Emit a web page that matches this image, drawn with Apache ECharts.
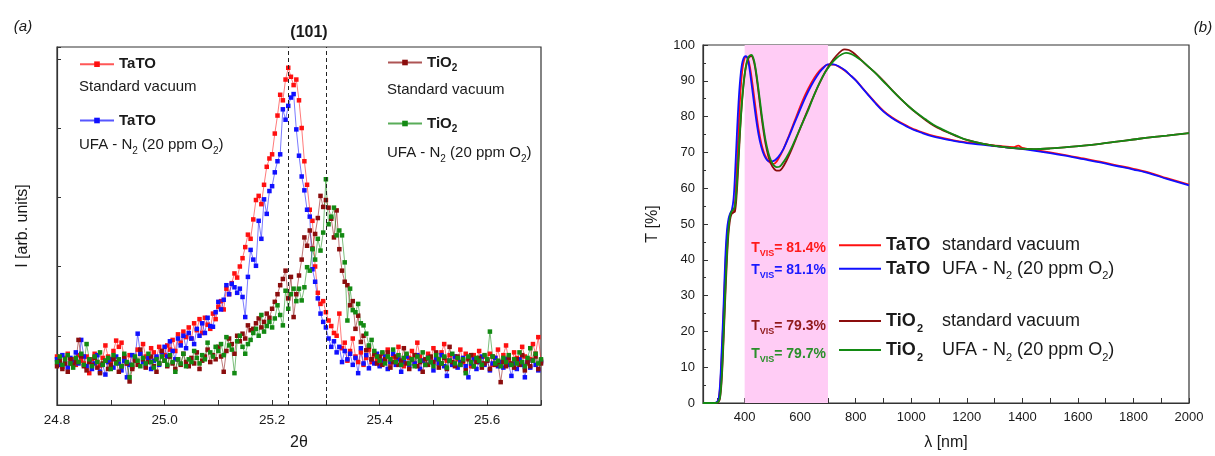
<!DOCTYPE html>
<html>
<head>
<meta charset="utf-8">
<script src="https://cdn.jsdelivr.net/npm/echarts@6/dist/echarts.min.js"></script>
<style>html,body{margin:0;padding:0;background:#fff}#c{width:1215px;height:456px}</style>
</head>
<body>
<div id="c"></div>
<script>
// ---------- Panel (a): XRD (101) peak, intensity in arbitrary units ----------
const twoThetaStart = 24.8;   // first measured angle
const twoThetaStep = 0.005;   // instrument step
const xrdTicks = {min: 24.8, max: 25.7, interval: 0.2};
const dashedRefs = [25.231, 25.301];

const iTaTOstd = [70,62,55,68,74,60,66,58,72,64,60,70,46,66,74,62,57,68,86,70,
62,78,93,84,90,68,60,72,55,66,80,74,88,70,64,82,76,68,84,78,
72,86,80,94,78,102,90,106,98,112,96,118,108,124,104,126,116,110,132,124,
142,150,138,168,160,176,190,184,200,212,228,246,240,268,296,302,290,318,344,356,
362,392,418,448,440,470,487,474,462,470,440,400,352,318,282,266,200,162,146,150,
134,122,114,104,100,132,82,90,64,78,96,70,62,76,58,68,80,62,72,66,
58,74,64,80,60,70,66,84,62,56,72,68,78,60,90,70,64,58,74,66,
82,68,60,76,88,64,72,58,70,66,80,62,74,68,56,72,64,78,60,70,
66,74,58,68,80,62,72,86,64,58,76,68,62,84,70,60,66,88,74,98,64];

const iTaTOufa = [66,58,72,60,54,68,62,76,60,94,70,56,64,52,60,72,48,58,44,62,
66,54,70,60,50,64,40,58,72,66,103,74,62,56,68,52,64,70,58,76,
84,70,92,78,66,96,86,100,82,104,96,88,110,100,118,104,126,114,113,134,
149,138,152,173,160,175,170,162,168,156,127,185,224,210,201,266,240,297,276,309,
316,336,352,362,427,412,432,444,449,398,360,330,310,282,272,196,178,154,132,120,
112,96,84,92,76,84,62,78,66,74,58,68,46,82,60,72,53,66,60,74,
56,64,70,52,62,74,58,66,48,62,70,56,66,60,72,52,64,58,68,62,
50,66,60,72,56,42,64,58,70,54,62,68,56,40,60,66,52,62,70,58,
64,50,60,68,56,62,54,66,58,42,60,52,66,58,40,62,54,64,58,50,62];

const iTiO2std = [56,64,52,60,48,66,58,62,94,70,56,50,62,58,68,54,46,60,64,52,
58,66,62,48,56,70,60,34,52,64,58,80,66,54,62,70,56,48,60,78,
64,56,70,60,52,66,58,74,62,56,68,60,76,52,64,70,80,62,72,66,
84,70,48,78,96,88,74,100,92,103,96,115,108,110,118,125,112,120,132,126,
139,149,160,173,182,194,154,185,127,160,187,210,242,230,252,226,247,270,302,286,
296,285,269,242,281,225,194,178,173,144,150,110,129,91,100,79,84,66,74,60,
70,58,66,76,54,62,70,58,64,82,60,52,66,72,56,62,48,66,58,70,
62,76,54,60,68,52,84,62,56,70,58,64,50,66,72,56,62,68,54,60,
64,52,70,58,60,33,62,56,68,60,54,66,58,72,50,62,56,64,70,52,60];

const iTiO2ufa = [62,70,58,66,72,60,54,68,62,74,58,88,66,56,70,62,76,58,64,68,
52,72,60,66,56,74,62,40,58,70,64,56,68,60,74,62,54,66,60,70,
64,58,72,62,48,66,60,74,56,66,62,78,68,60,72,66,90,76,70,84,
78,88,72,98,86,80,46,92,100,84,74,88,94,104,110,100,130,106,114,120,
112,125,144,130,115,165,139,160,168,150,168,151,170,199,194,225,210,240,223,249,
326,261,272,285,245,252,245,206,122,168,137,134,146,118,115,103,86,94,78,70,
64,76,60,70,66,80,62,72,58,68,74,60,66,56,70,64,76,58,68,62,
56,72,66,60,70,54,64,74,60,68,58,66,46,70,62,56,68,64,58,72,
66,106,70,60,64,56,68,62,72,58,66,60,76,62,56,68,82,64,74,60,66];

// ---------- Panel (b): optical transmittance ----------
const wlTaTOstd = [250,290,300,306,312,318,324,330,336,342,348,354,360,364,368,374,380,386,392,398,
404,410,416,422,430,440,450,460,470,480,490,500,510,520,540,560,580,600,620,640,
660,680,700,720,740,760,780,800,820,840,870,900,930,960,1000,1040,1080,1140,1200,1260,
1320,1370,1385,1400,1440,1500,1560,1620,1680,1740,1800,1860,1920,2000];
const tTaTOstd = [0,0,0.2,0.8,5,14,25,37,46,50.5,52.5,53.2,53.3,55,60,70,80,88,93.2,95.8,
96.6,96.5,95,92.5,88,82,76.5,72.5,69.8,68.2,67.2,66.8,67,68,71,74.8,78.8,82.8,86.4,89.4,
91.9,93.6,94.5,94.5,93.9,92.9,91.6,90.2,88.4,86.6,84,81.6,79.8,78.4,76.8,75.6,74.6,73.6,72.8,72.3,
71.8,71.5,71.9,71.3,70.7,70,69.2,68.3,67.4,66.4,65.4,64.3,62.8,61];

const wlTaTOufa = [250,290,300,306,312,318,324,330,336,342,348,354,360,366,372,378,384,390,396,402,
408,414,420,430,440,450,460,470,480,490,500,510,520,540,560,580,600,620,640,660,
680,700,720,740,760,780,800,820,840,870,900,930,960,1000,1040,1080,1140,1200,1260,1320,
1380,1440,1500,1560,1620,1680,1740,1800,1860,1920,2000];
const tTaTOufa = [0,0,0.3,1,6,16,27,40,48,51.5,53,54,57,65,75,84,90.5,94.5,96.3,96.9,
96.7,95,92,86,80,75,71.5,69.2,67.9,67.4,67.5,67.9,68.6,71,74.5,78.3,82,85.6,88.7,91.3,
93.3,94.6,94.6,94,93,91.6,90.1,88.3,86.5,83.8,81.4,79.6,78.2,76.6,75.4,74.4,73.4,72.6,72.1,71.6,
71.1,70.5,69.8,69,68.1,67.2,66.2,65.2,64.1,62.6,60.8];

const wlTiO2std = [250,295,305,311,317,323,329,335,341,347,353,359,365,371,377,383,389,395,401,407,
413,419,425,431,437,445,455,465,475,485,495,505,515,525,535,550,570,590,610,630,
650,670,690,710,730,750,760,775,790,810,830,850,870,900,930,960,990,1020,1050,1080,
1110,1140,1170,1200,1260,1320,1380,1440,1500,1560,1620,1680,1740,1800,1860,1920,2000];
const tTiO2std = [0,0,0.2,1.2,6,15.5,27,38,46.5,51,52.8,53.2,53.5,58,66,75,82.5,88,92.2,94.8,
96.2,96.8,96.9,96,94,89.8,83.5,77.5,72.5,69,66.8,65.5,64.9,64.9,65.6,67.6,71,74.8,78.6,82.4,
86,89.4,92.5,95,97,98.5,98.8,98.6,97.9,96.5,95,93.6,92.3,90,87.5,85.1,82.9,80.9,79.1,77.5,
76.3,75.3,74.3,73.5,72.4,71.6,71.1,70.9,71.1,71.5,71.9,72.4,73,73.6,74.2,74.7,75.4];

const wlTiO2ufa = [250,295,305,311,317,323,329,335,341,347,353,359,365,371,377,383,389,395,401,407,
413,419,425,431,437,445,455,465,475,485,495,505,515,525,535,550,570,590,610,630,
650,670,690,710,730,750,765,780,800,820,840,870,900,930,960,990,1020,1050,1080,1110,
1140,1170,1200,1260,1320,1380,1440,1500,1560,1620,1680,1740,1800,1860,1920,2000];
const tTiO2ufa = [0,0,0.3,1.5,7,17,29,40,48,52,53.5,54,55,60,68,76,83,88.5,92.5,95,
96.5,97.1,97.2,96.4,94.5,90.5,84.5,78.5,73.5,70,67.7,66.4,65.9,66,66.8,68.5,71.5,75,78.5,82,
86,89.5,92.4,94.6,96.3,97.4,97.8,97.6,96.8,95.7,94.4,92.2,89.8,87.4,85.1,82.9,81,79.3,77.7,76.5,
75.4,74.4,73.5,72.4,71.6,71.1,70.9,71.1,71.5,71.9,72.4,73,73.6,74.2,74.7,75.4];

const visBand = [400, 700];
const wlLabelValues = [400,600,800,1000,1200,1400,1600,1800,2000];
const wlTickValues = [300,400,500,600,700,800,900,1000,1100,1200,1300,1400,1500,1600,1700,1800,1900,2000];
const tVis = ['81.4%', '81.1%', '79.3%', '79.7%'];

// ---------- styling ----------
const FONT = '"Liberation Sans", Arial, Helvetica, sans-serif';
const C = {red:'#ff1010', blue:'#1010ff', dred:'#8b0d0d', green:'#138a13'};
const TXT = '#1a1a1a';

function xrdPairs(vals){ return vals.map((v,i)=>[+(twoThetaStart + i*twoThetaStep).toFixed(3), v]); }
function wlPairs(wl, t){ return wl.map((w,i)=>[w, t[i]]); }

function xrdSeries(name, vals, color, extra){
  return Object.assign({
    name, type:'line', xAxisIndex:0, yAxisIndex:0, data: xrdPairs(vals),
    symbol:'rect', symbolSize:4.5, showSymbol:true, showAllSymbol:true,
    lineStyle:{width:0.8, color, opacity:0.7}, itemStyle:{color},
    emphasis:{disabled:true}, animation:false, z:3
  }, extra||{});
}
function uvSeries(name, wl, t, color){
  return {
    name, type:'line', xAxisIndex:1, yAxisIndex:1, data: wlPairs(wl,t),
    symbol:'none', smooth:0.35, lineStyle:{width:1.8, color}, itemStyle:{color},
    emphasis:{disabled:true}, animation:false, z:3
  };
}

// rich styles for legend labels (ECharts label rich -> uses color)
const richSmall = {
  nb:{fontFamily:FONT, fontSize:15, fontWeight:'bold', color:TXT, lineHeight:22},
  sb:{fontFamily:FONT, fontSize:10, fontWeight:'bold', color:TXT, lineHeight:10, verticalAlign:'bottom'}
};
const richBig = {
  n:{fontFamily:FONT, fontSize:18, fontWeight:'bold', color:TXT, lineHeight:26, width:56},
  n2:{fontFamily:FONT, fontSize:18, fontWeight:'bold', color:TXT, lineHeight:26, width:31},
  sb:{fontFamily:FONT, fontSize:11, fontWeight:'bold', color:TXT, lineHeight:11, verticalAlign:'bottom', width:25},
  d:{fontFamily:FONT, fontSize:18, color:TXT, lineHeight:26},
  ds:{fontFamily:FONT, fontSize:11, color:TXT, lineHeight:11, verticalAlign:'bottom'}
};
// rich styles for graphic text (zrender -> uses fill)
const gRich = {
  r:{fontFamily:FONT, fontSize:15, fill:TXT, lineHeight:22},
  s:{fontFamily:FONT, fontSize:10, fill:TXT, lineHeight:10, verticalAlign:'bottom'}
};

function legendA(name, left, cy, fmt){
  return {left, top: cy-11, padding:0, itemWidth:34, itemHeight:7, itemGap:0, selectedMode:false,
    data:[name], formatter:()=>fmt, textStyle:{rich:richSmall}};
}
function legendB(name, cy, fmt){
  return {left: 839, top: cy-13, padding:0, itemWidth:42, itemHeight:2, itemGap:0, selectedMode:false,
    icon:'rect', data:[name], formatter:()=>fmt, textStyle:{rich:richBig}};
}
function gText(x, y, text, rich, align, font){
  return {type:'text', silent:true, z:100, zlevel:0, style:{x, y, text, rich: rich||undefined,
    align: align||'left', verticalAlign:'middle', textAlign: align||'left', textVerticalAlign:'middle',
    font: font || ('15px '+FONT), fill:TXT}};
}
function tvisText(y, val, color){
  const rich = {
    t:{fontFamily:FONT, fontSize:14, fontWeight:'bold', fill:color, lineHeight:20},
    v:{fontFamily:FONT, fontSize:9, fontWeight:'bold', fill:color, lineHeight:9, verticalAlign:'bottom'}
  };
  return gText(826, y, '{t|T}{v|VIS}{t|= '+val+'}', rich, 'right', 'bold 14px '+FONT);
}

const axisLineStyle = {lineStyle:{color:'#333', width:1.2}};

const option = {
  backgroundColor:'#fff',
  animation:false,
  grid:[
    {left:57, top:47, width:484, height:360, show:true, borderColor:'#333', borderWidth:1.2, backgroundColor:'transparent'},
    {left:703, top:45, width:486, height:358.5, show:true, borderColor:'#333', borderWidth:1.2, backgroundColor:'transparent'}
  ],
  xAxis:[
    {type:'value', gridIndex:0, min:xrdTicks.min, max:xrdTicks.max, interval:xrdTicks.interval,
     name:'2θ', nameLocation:'middle', nameGap:30, nameTextStyle:{fontFamily:FONT, fontSize:16, color:TXT},
     axisLine:axisLineStyle,
     axisTick:{inside:true, length:5, lineStyle:{color:'#333'}},
     minorTick:{show:true, splitNumber:2, length:5, lineStyle:{color:'#333'}},
     axisLabel:{fontFamily:FONT, fontSize:13.5, color:TXT, margin:8, formatter:v=>v.toFixed(1), showMaxLabel:false},
     splitLine:{show:false}},
    {type:'value', gridIndex:1, min:250, max:2000,
     name:'λ [nm]', nameLocation:'middle', nameGap:32, nameTextStyle:{fontFamily:FONT, fontSize:16, color:TXT},
     axisLine:axisLineStyle,
     axisTick:{inside:true, length:5, customValues:wlTickValues, lineStyle:{color:'#333'}},
     axisLabel:{fontFamily:FONT, fontSize:13, color:TXT, margin:8, customValues:wlLabelValues, formatter:v=>String(v)},
     splitLine:{show:false}}
  ],
  yAxis:[
    {type:'value', gridIndex:0, min:0, max:517, interval:100,
     name:'I [arb. units]', nameLocation:'middle', nameGap:26, nameRotate:90,
     nameTextStyle:{fontFamily:FONT, fontSize:16, color:TXT},
     axisLine:{show:true, lineStyle:{color:'#333', width:1.2}},
     axisTick:{show:true, inside:true, length:4, lineStyle:{color:'#333'}},
     axisLabel:{show:false}, splitLine:{show:false}},
    {type:'value', gridIndex:1, min:0, max:100, interval:10,
     name:'T [%]', nameLocation:'middle', nameGap:42, nameRotate:90,
     nameTextStyle:{fontFamily:FONT, fontSize:16, color:TXT},
     axisLine:{show:true, lineStyle:{color:'#333', width:1.2}},
     axisTick:{show:true, inside:true, length:5, lineStyle:{color:'#333'}},
     minorTick:{show:true, splitNumber:2, length:3, lineStyle:{color:'#333'}},
     axisLabel:{fontFamily:FONT, fontSize:13, color:TXT, margin:8}, splitLine:{show:false}}
  ],
  legend:[
    legendA('TaTO standard vacuum (a)', 79, 67.7, '{nb|TaTO}'),
    legendA('TaTO UFA (a)', 79, 124, '{nb|TaTO}'),
    legendA('TiO2 standard vacuum (a)', 387, 66, '{nb|TiO}{sb|2}'),
    legendA('TiO2 UFA (a)', 387, 127, '{nb|TiO}{sb|2}'),
    legendB('TaTO standard vacuum (b)', 249.3, '{n|TaTO}{d|standard vacuum}'),
    legendB('TaTO UFA (b)', 272.7, '{n|TaTO}{d|UFA - N}{ds|2}{d| (20 ppm O}{ds|2}{d|)}'),
    legendB('TiO2 standard vacuum (b)', 325, '{n2|TiO}{sb|2}{d|standard vacuum}'),
    legendB('TiO2 UFA (b)', 354, '{n2|TiO}{sb|2}{d|UFA - N}{ds|2}{d| (20 ppm O}{ds|2}{d|)}')
  ],
  series:[
    xrdSeries('TaTO standard vacuum (a)', iTaTOstd, C.red, {
      markLine:{silent:true, symbol:['none','none'], label:{show:false}, animation:false,
        lineStyle:{type:[4,3], color:'#222', width:1}, data: dashedRefs.map(x=>({xAxis:x}))}
    }),
    xrdSeries('TaTO UFA (a)', iTaTOufa, C.blue),
    xrdSeries('TiO2 standard vacuum (a)', iTiO2std, C.dred),
    xrdSeries('TiO2 UFA (a)', iTiO2ufa, C.green),
    {name:'vis band', type:'line', xAxisIndex:1, yAxisIndex:1, data:[], z:1,
     markArea:{silent:true, animation:false, itemStyle:{color:'#ffccf5'},
       data:[[{xAxis:visBand[0]},{xAxis:visBand[1]}]]}},
    uvSeries('TaTO standard vacuum (b)', wlTaTOstd, tTaTOstd, C.red),
    uvSeries('TaTO UFA (b)', wlTaTOufa, tTaTOufa, C.blue),
    uvSeries('TiO2 standard vacuum (b)', wlTiO2std, tTiO2std, C.dred),
    uvSeries('TiO2 UFA (b)', wlTiO2ufa, tTiO2ufa, C.green)
  ],
  graphic:[
    gText(23, 27, '(a)', null, 'center', 'italic 15px '+FONT),
    gText(1203, 28, '(b)', null, 'center', 'italic 15px '+FONT),
    gText(309, 32.7, '(101)', null, 'center', 'bold 16px '+FONT),
    gText(79, 87, '{r|Standard vacuum}', gRich),
    gText(79, 145, '{r|UFA - N}{s|2}{r| (20 ppm O}{s|2}{r|)}', gRich),
    gText(387, 90, '{r|Standard vacuum}', gRich),
    gText(387, 153, '{r|UFA - N}{s|2}{r| (20 ppm O}{s|2}{r|)}', gRich),
    tvisText(248, tVis[0], '#ff1a1a'),
    tvisText(270.5, tVis[1], '#1a1aff'),
    tvisText(326, tVis[2], '#8f1a1a'),
    tvisText(354, tVis[3], '#2a8f2a')
  ]
};

const chart = echarts.init(document.getElementById('c'), null, {renderer:'canvas'});
chart.setOption(option);
</script>
</body>
</html>
